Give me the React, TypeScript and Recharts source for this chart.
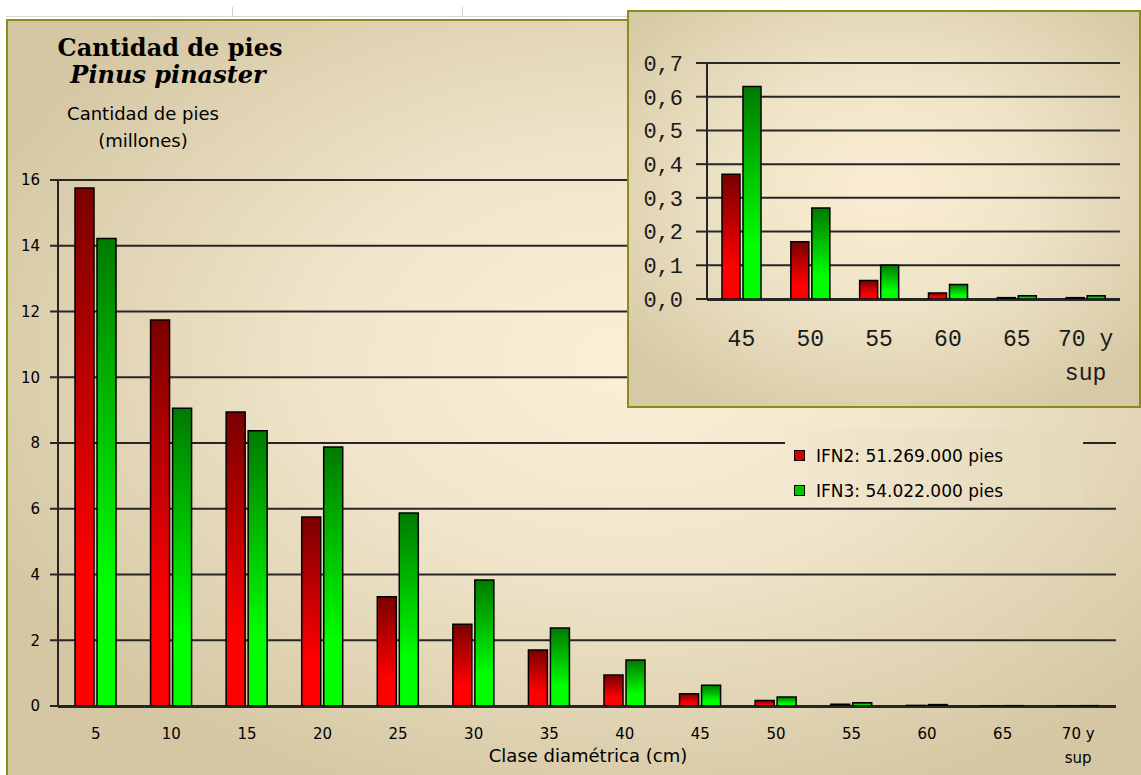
import React from 'react'
import { BarChart, Bar, XAxis, YAxis, CartesianGrid, Legend } from 'recharts'

// clases diamétricas (cm)
const CLASES = ['5', '10', '15', '20', '25', '30', '35', '40', '45', '50', '55', '60', '65', '70 y sup']
// millones de pies
const IFN2 = [15.76, 11.74, 8.94, 5.75, 3.32, 2.49, 1.7, 0.94, 0.37, 0.17, 0.055, 0.018, 0.004, 0.004]
const IFN3 = [14.22, 9.06, 8.37, 7.88, 5.87, 3.83, 2.37, 1.4, 0.63, 0.27, 0.1, 0.043, 0.01, 0.01]

const Y_TICKS = [0, 2, 4, 6, 8, 10, 12, 14, 16]
const INSET_Y_TICKS = [0, 0.1, 0.2, 0.3, 0.4, 0.5, 0.6, 0.7]
const INSET_FROM = '45'

const LABEL_IFN2 = 'IFN2: 51.269.000 pies'
const LABEL_IFN3 = 'IFN3: 54.022.000 pies'

const mainData = CLASES.map((clase, i) => ({ clase, ifn2: IFN2[i], ifn3: IFN3[i] }))
const insetData = mainData.slice(CLASES.indexOf(INSET_FROM))
const mainEdges = Array.from({ length: mainData.length + 1 }, (_, i) => i)
const insetEdges = Array.from({ length: insetData.length + 1 }, (_, i) => i)

const SANS = '"DejaVu Sans", Verdana, sans-serif'
const MONO = '"Liberation Mono", "Courier New", monospace'
const SERIF = '"DejaVu Serif", Georgia, serif'
const OLIVE = '#8c8c1c'
const GRID = '#262626'

const SWATCH: Record<string, string> = { ifn2: '#d40000', ifn3: '#00c800' }

function splitLabel(v: string) {
  const i = v.lastIndexOf(' ')
  return i > 0 ? [v.slice(0, i), v.slice(i + 1)] : [v]
}

function MainTick({ x, y, payload }: any) {
  return (
    <text textAnchor="middle" fontFamily={SANS} fontSize={15} fill="#000">
      {splitLabel(String(payload.value)).map((l, i) => (
        <tspan key={i} x={x} y={y + 33 + i * 24}>{l}</tspan>
      ))}
    </text>
  )
}

function InsetTick({ x, y, payload }: any) {
  return (
    <text textAnchor="middle" fontFamily={MONO} fontSize={23} fill="#1a1a1a">
      {splitLabel(String(payload.value)).map((l, i) => (
        <tspan key={i} x={x} y={y + 47 + i * 34}>{l}</tspan>
      ))}
    </text>
  )
}

function LegendBox({ payload }: any) {
  return (
    <div style={{ padding: '8px 0 0 9px', fontFamily: SANS, fontSize: 17, color: '#000' }}>
      {(payload || []).map((p: any) => (
        <div key={p.dataKey} style={{ display: 'flex', alignItems: 'center', height: 35 }}>
          <span style={{ width: 9, height: 9, border: '1px solid #000', background: SWATCH[p.dataKey], marginRight: 11 }} />
          <span>{p.value}</span>
        </div>
      ))}
    </div>
  )
}

function Gradients({ id }: { id: string }) {
  return (
    <defs>
      <linearGradient id={`${id}-red`} x1="0" y1="0" x2="0" y2="1">
        <stop offset="0%" stopColor="#7a0000" />
        <stop offset="75%" stopColor="#ff0000" />
        <stop offset="100%" stopColor="#ff0000" />
      </linearGradient>
      <linearGradient id={`${id}-green`} x1="0" y1="0" x2="0" y2="1">
        <stop offset="0%" stopColor="#007a00" />
        <stop offset="75%" stopColor="#00ff00" />
        <stop offset="100%" stopColor="#00ff00" />
      </linearGradient>
    </defs>
  )
}

export default function App() {
  return (
    <div style={{ position: 'absolute', left: 0, top: 0, width: 1141, height: 775, background: '#fff', overflow: 'hidden' }}>
      {/* hoja de cálculo detrás */}
      <div style={{ position: 'absolute', left: 6, top: 16, width: 1135, height: 1, background: '#d8d8d8' }} />
      <div style={{ position: 'absolute', left: 232, top: 7, width: 1, height: 10, background: '#cfcfcf' }} />
      <div style={{ position: 'absolute', left: 462, top: 7, width: 1, height: 10, background: '#cfcfcf' }} />

      <div
        style={{
          position: 'absolute', left: 6, top: 19, width: 1135, height: 756, boxSizing: 'border-box',
          borderLeft: `2px solid ${OLIVE}`, borderTop: `2px solid ${OLIVE}`,
          background: 'radial-gradient(ellipse 62% 62% at 55% 45%, #fcefd8 0%, #f0e5ca 45%, #d5c7a3 100%)',
        }}
      />

      <div style={{ position: 'absolute', left: 0, top: 0 }}>
        <BarChart width={1141} height={775} data={mainData} margin={{ top: 180, right: 25, bottom: 67, left: 8 }} barSize={19} barGap={3}>
          <Gradients id="main" />
          <CartesianGrid vertical={false} stroke={GRID} strokeWidth={2} yAxisId="main" xAxisId="edge" />
          <XAxis xAxisId="edge" type="number" domain={[0, mainData.length]} allowDataOverflow ticks={mainEdges} tick={false}
            tickSize={8} height={1} axisLine={{ stroke: GRID, strokeWidth: 2 }} tickLine={{ stroke: GRID, strokeWidth: 2 }} />
          <XAxis xAxisId="cat" dataKey="clase" height={1} tickSize={0} tickMargin={0} axisLine={false} tickLine={false}
            interval={0} tick={<MainTick />} />
          <YAxis yAxisId="main" domain={[0, 16]} ticks={Y_TICKS} width={50} tickSize={8} tickMargin={10}
            axisLine={{ stroke: GRID, strokeWidth: 2 }} tickLine={{ stroke: GRID, strokeWidth: 2 }}
            tick={{ fontFamily: SANS, fontSize: 15, fill: '#000' }} />
          <Legend layout="vertical" align="center" verticalAlign="middle" content={<LegendBox />}
            wrapperStyle={{ left: 785, top: 430, width: 298, height: 74, background: 'linear-gradient(to right, #f3e8cf, #e5d9bb)' }} />
          <Bar xAxisId="cat" yAxisId="main" dataKey="ifn2" name={LABEL_IFN2} fill="url(#main-red)" stroke="#000" strokeWidth={1.5} isAnimationActive={false} />
          <Bar xAxisId="cat" yAxisId="main" dataKey="ifn3" name={LABEL_IFN3} fill="url(#main-green)" stroke="#000" strokeWidth={1.5} isAnimationActive={false} />
        </BarChart>
      </div>

      <svg width={1141} height={775} style={{ position: 'absolute', left: 0, top: 0, pointerEvents: 'none' }}>
        <text x={170} y={56} textAnchor="middle" fontFamily={SERIF} fontWeight="bold" fontSize={24}>Cantidad de pies</text>
        <text x={168} y={83} textAnchor="middle" fontFamily={SERIF} fontWeight="bold" fontStyle="italic" fontSize={24}>Pinus pinaster</text>
        <text x={143} y={120} textAnchor="middle" fontFamily={SANS} fontSize={18}>Cantidad de pies</text>
        <text x={143} y={147} textAnchor="middle" fontFamily={SANS} fontSize={18}>(millones)</text>
        <text x={588} y={762} textAnchor="middle" fontFamily={SANS} fontSize={18}>Clase diamétrica (cm)</text>
      </svg>

      {/* detalle de las clases mayores */}
      <div
        style={{
          position: 'absolute', left: 627, top: 10, width: 514, height: 398, boxSizing: 'border-box',
          border: `2px solid ${OLIVE}`,
          background: 'radial-gradient(ellipse 65% 65% at 50% 45%, #fbedd3 0%, #efe4c8 45%, #d6c9a5 100%)',
        }}
      />
      <div style={{ position: 'absolute', left: 627, top: 10 }}>
        <BarChart width={514} height={398} data={insetData} margin={{ top: 53, right: 21, bottom: 107, left: 0 }} barSize={18} barGap={3}>
          <Gradients id="inset" />
          <CartesianGrid vertical={false} stroke={GRID} strokeWidth={2} yAxisId="inset" xAxisId="edge" />
          <XAxis xAxisId="edge" type="number" domain={[0, insetData.length]} allowDataOverflow ticks={insetEdges} tick={false}
            tickSize={10} height={1} axisLine={{ stroke: GRID, strokeWidth: 2 }} tickLine={{ stroke: GRID, strokeWidth: 2 }} />
          <XAxis xAxisId="cat" dataKey="clase" height={1} tickSize={0} tickMargin={0} axisLine={false} tickLine={false}
            interval={0} tick={<InsetTick />} />
          <YAxis yAxisId="inset" domain={[0, 0.7]} ticks={INSET_Y_TICKS} width={80} tickSize={11} tickMargin={13}
            tickFormatter={(v: number) => v.toFixed(1).replace('.', ',')}
            axisLine={{ stroke: GRID, strokeWidth: 2 }} tickLine={{ stroke: GRID, strokeWidth: 2 }}
            tick={{ fontFamily: MONO, fontSize: 22, fill: '#1a1a1a' }} />
          <Bar xAxisId="cat" yAxisId="inset" dataKey="ifn2" fill="url(#inset-red)" stroke="#000" strokeWidth={1.5} isAnimationActive={false} />
          <Bar xAxisId="cat" yAxisId="inset" dataKey="ifn3" fill="url(#inset-green)" stroke="#000" strokeWidth={1.5} isAnimationActive={false} />
        </BarChart>
      </div>
    </div>
  )
}
